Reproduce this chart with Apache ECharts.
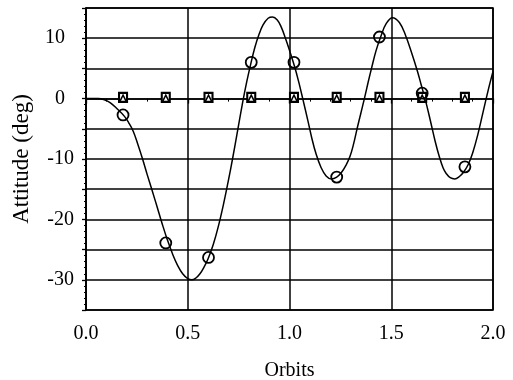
<!DOCTYPE html>
<html><head><meta charset="utf-8">
<script src="https://cdn.jsdelivr.net/npm/echarts@6/dist/echarts.min.js"></script>
<style>html,body{margin:0;padding:0;background:#fff}#c{width:513px;height:380px}</style>
</head><body><div id="c"></div>
<script>
// Simulated attitude curve
const curveX = [0, 0.03, 0.06, 0.09, 0.12, 0.15, 0.188, 0.21, 0.232, 0.255, 0.278, 0.30, 0.325, 0.35, 0.375, 0.40, 0.425, 0.45, 0.475, 0.50, 0.52, 0.54, 0.56, 0.58, 0.60, 0.625, 0.65, 0.675, 0.70, 0.72, 0.745, 0.77, 0.79, 0.81, 0.83, 0.85, 0.87, 0.895, 0.917, 0.94, 0.96, 0.98, 1.0, 1.026, 1.045, 1.065, 1.09, 1.11, 1.13, 1.155, 1.18, 1.206, 1.232, 1.256, 1.278, 1.297, 1.315, 1.332, 1.35, 1.368, 1.385, 1.403, 1.425, 1.45, 1.475, 1.506, 1.54, 1.57, 1.60, 1.629, 1.647, 1.666, 1.68, 1.696, 1.716, 1.736, 1.755, 1.77, 1.79, 1.812, 1.835, 1.855, 1.877, 1.9, 1.925, 1.95, 1.975, 2.0];
const curveY = [0, 0, 0, -0.2, -0.7, -1.6, -2.9, -4.0, -5.4, -7.6, -10, -12.5, -15.2, -18, -20.8, -23.4, -25.7, -27.6, -29, -29.8, -30.0, -29.7, -29, -27.9, -26.5, -24.2, -21.2, -17.6, -13.5, -10, -5.3, -0.6, 2.8, 5.8, 8.5, 10.6, 12.2, 13.3, 13.5, 13.0, 11.8, 10.0, 8.0, 5.2, 2.8, 0, -3.6, -6.6, -9.1, -11.4, -12.8, -13.3, -13.0, -12.2, -11.0, -9.6, -7.5, -5.0, -2.5, 0, 2.5, 5.0, 7.9, 10.4, 12.4, 13.4, 12.6, 10.5, 7.6, 4.5, 2.3, 0, -1.9, -4.2, -7.1, -9.6, -11.5, -12.4, -13.1, -13.3, -12.9, -12.2, -11.0, -9.0, -6.0, -2.4, 1.2, 4.5];
// Sampled markers
const markerX = [0.182, 0.392, 0.602, 0.812, 1.022, 1.232, 1.442, 1.652, 1.862];
const circleY = [-2.7, -23.9, -26.3, 6, 6, -13, 10.2, 0.9, -11.3];
const squareY = [0.2, 0.2, 0.2, 0.2, 0.2, 0.2, 0.2, 0.2, 0.2];
const triangleY = [0, 0, 0, 0, 0, 0, 0, 0, 0];
const xTickLabels = ['0.0', '0.5', '1.0', '1.5', '2.0'];
const yTickLabels = ['-30', '-20', '-10', '0', '10'];

const FONT = "'Liberation Serif', 'Times New Roman', serif";
const zip = (xs, ys) => xs.map((x, i) => [x, ys[i]]);

const chart = echarts.init(document.getElementById('c'), null, {renderer: 'canvas'});
chart.setOption({
  backgroundColor: '#fff',
  animation: false,
  grid: {left: 86, right: 20, top: 8, bottom: 70, show: true, borderColor: '#000', borderWidth: 1.6,
         backgroundColor: 'transparent', containLabel: false, outerBoundsMode: 'none'},
  xAxis: {
    type: 'value', min: 0, max: 2, interval: 0.5,
    name: 'Orbits', nameLocation: 'middle', nameGap: 51,
    nameTextStyle: {fontFamily: FONT, fontSize: 20, color: '#000'},
    axisLine: {show: true, lineStyle: {color: '#000', width: 1.6}},
    axisTick: {show: true, inside: false, length: 5, lineStyle: {color: '#000', width: 1.3}},
    minorTick: {show: true, splitNumber: 5, length: 3, lineStyle: {color: '#000', width: 1}},
    splitLine: {show: true, lineStyle: {color: '#000', width: 1.5}},
    axisLabel: {
      margin: 14, fontFamily: FONT, fontSize: 20, color: '#000',
      formatter: v => { const i = Math.round(v / 0.5); return xTickLabels[i] !== undefined ? xTickLabels[i] : ''; }
    }
  },
  yAxis: {
    type: 'value', min: -35, max: 15, interval: 5,
    name: 'Attitude (deg)', nameLocation: 'middle', nameGap: 53, nameRotate: 90,
    nameTextStyle: {fontFamily: FONT, fontSize: 23, color: '#000'},
    axisLine: {show: true, lineStyle: {color: '#000', width: 1.6}},
    axisTick: {show: true, inside: false, length: 4, lineStyle: {color: '#000', width: 1.3}},
    minorTick: {show: true, splitNumber: 5, length: 2, lineStyle: {color: '#000', width: 1}},
    splitLine: {show: true, lineStyle: {color: '#000', width: 1.5}},
    axisLabel: {
      margin: 12, fontFamily: FONT, fontSize: 20, color: '#000',
      formatter: v => {
        const s = String(Math.round(v));
        if (yTickLabels.indexOf(s) < 0) return '';
        return v < 0 ? '{n|' + s + '}' : '{p|' + s + '}';
      },
      rich: {
        n: {fontFamily: FONT, fontSize: 20, color: '#000'},
        p: {fontFamily: FONT, fontSize: 20, color: '#000', padding: [0, 9, 0, 0]}
      }
    }
  },
  series: [
    {type: 'line', data: zip(curveX, curveY), smooth: 0.4, showSymbol: false, symbol: 'none',
     lineStyle: {color: '#000', width: 1.5}, z: 3},
    {type: 'scatter', data: zip(markerX, squareY), symbol: 'rect', symbolSize: [8, 9],
     itemStyle: {color: '#fff', borderColor: '#000', borderWidth: 2.2, opacity: 1}, z: 4},
    {type: 'scatter', data: zip(markerX, triangleY), symbol: 'triangle', symbolSize: 7,
     itemStyle: {color: 'transparent', borderColor: '#000', borderWidth: 1.5, opacity: 1}, z: 5},
    {type: 'scatter', data: zip(markerX, circleY), symbol: 'circle', symbolSize: 11,
     itemStyle: {color: 'transparent', borderColor: '#000', borderWidth: 1.8, opacity: 1}, z: 6}
  ]
});
</script>
</body></html>
